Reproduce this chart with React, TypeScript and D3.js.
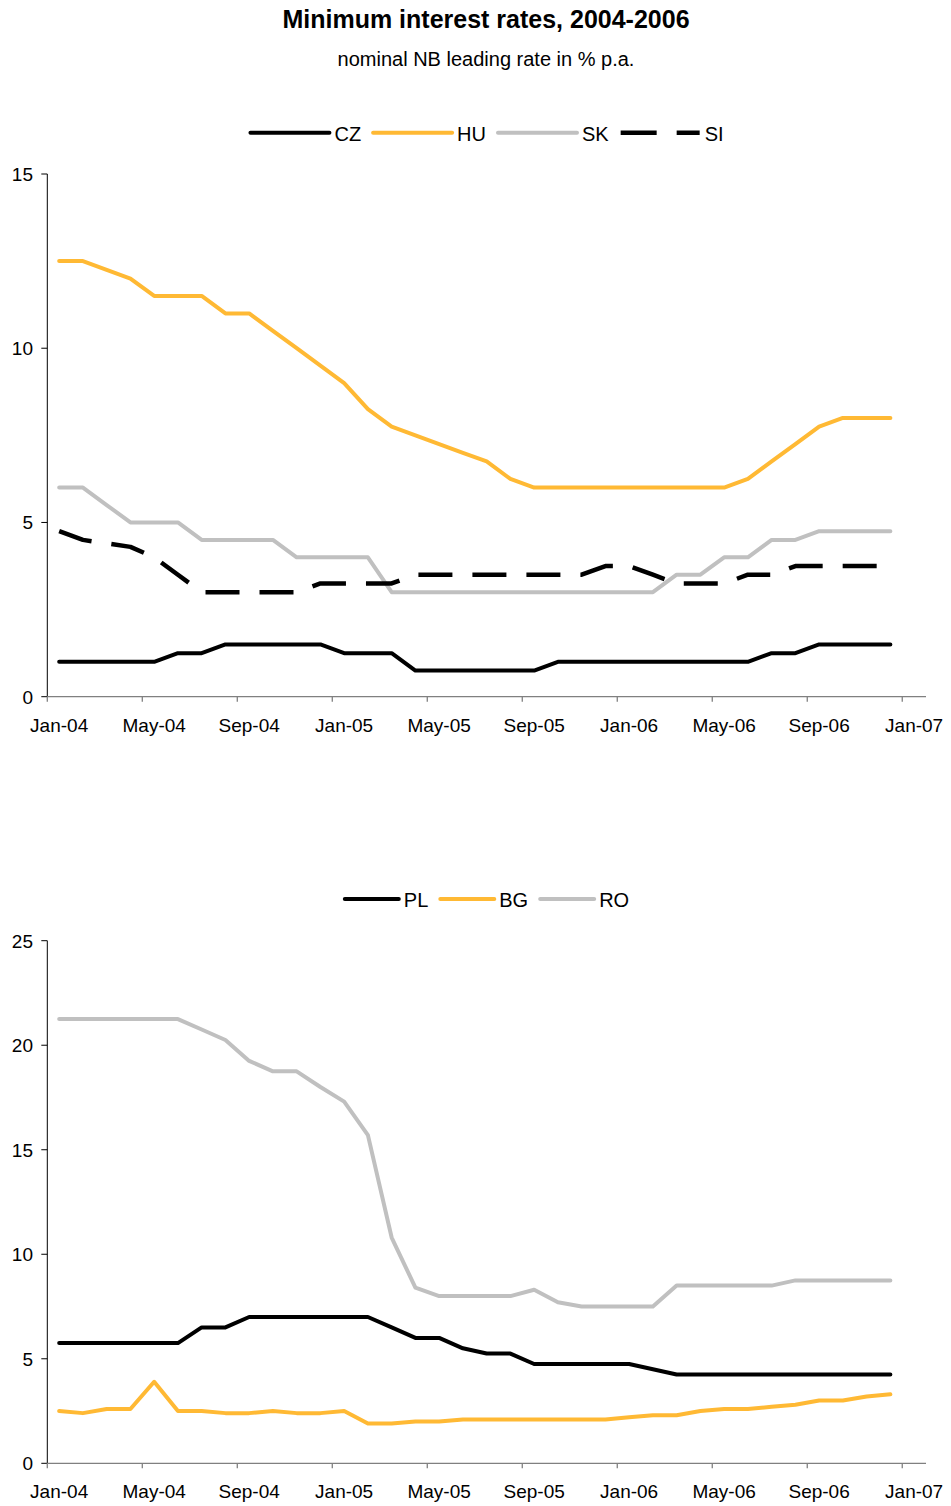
import React from 'react';
import * as d3 from 'd3';

const categories = [
  'Jan-04','Feb-04','Mar-04','Apr-04','May-04','Jun-04','Jul-04','Aug-04','Sep-04','Oct-04','Nov-04','Dec-04',
  'Jan-05','Feb-05','Mar-05','Apr-05','May-05','Jun-05','Jul-05','Aug-05','Sep-05','Oct-05','Nov-05','Dec-05',
  'Jan-06','Feb-06','Mar-06','Apr-06','May-06','Jun-06','Jul-06','Aug-06','Sep-06','Oct-06','Nov-06','Dec-06',
  'Jan-07'
];
const tickLabels = ['Jan-04','May-04','Sep-04','Jan-05','May-05','Sep-05','Jan-06','May-06','Sep-06','Jan-07'];

const CZ = [1,1,1,1,1,1.25,1.25,1.5,1.5,1.5,1.5,1.5,1.25,1.25,1.25,0.75,0.75,0.75,0.75,0.75,0.75,1,1,1,1,1,1,1,1,1,1.25,1.25,1.5,1.5,1.5,1.5];
const HU = [12.5,12.5,12.25,12,11.5,11.5,11.5,11,11,10.5,10,9.5,9,8.25,7.75,7.5,7.25,7,6.75,6.25,6,6,6,6,6,6,6,6,6,6.25,6.75,7.25,7.75,8,8,8];
const SK = [6,6,5.5,5,5,5,4.5,4.5,4.5,4.5,4,4,4,4,3,3,3,3,3,3,3,3,3,3,3,3,3.5,3.5,4,4,4.5,4.5,4.75,4.75,4.75,4.75];
const SI = [4.75,4.5,4.4,4.3,4,3.5,3,3,3,3,3,3.25,3.25,3.25,3.25,3.5,3.5,3.5,3.5,3.5,3.5,3.5,3.5,3.75,3.75,3.5,3.25,3.25,3.25,3.5,3.5,3.75,3.75,3.75,3.75,3.75];

const PL = [5.75,5.75,5.75,5.75,5.75,5.75,6.5,6.5,7,7,7,7,7,7,6.5,6,6,5.5,5.25,5.25,4.75,4.75,4.75,4.75,4.75,4.5,4.25,4.25,4.25,4.25,4.25,4.25,4.25,4.25,4.25,4.25];
const BG = [2.5,2.4,2.6,2.6,3.9,2.5,2.5,2.4,2.4,2.5,2.4,2.4,2.5,1.9,1.9,2.0,2.0,2.1,2.1,2.1,2.1,2.1,2.1,2.1,2.2,2.3,2.3,2.5,2.6,2.6,2.7,2.8,3.0,3.0,3.2,3.3];
const RO = [21.25,21.25,21.25,21.25,21.25,21.25,20.75,20.25,19.25,18.75,18.75,18.0,17.3,15.7,10.8,8.4,8.0,8.0,8.0,8.0,8.3,7.7,7.5,7.5,7.5,7.5,8.5,8.5,8.5,8.5,8.5,8.75,8.75,8.75,8.75,8.75];

const topTicks = [0, 5, 10, 15];
const bottomTicks = [0, 5, 10, 15, 20, 25];

const FONT = '"Liberation Sans", Arial, Helvetica, sans-serif';
const ORANGE = '#FFB934';
const GREY = '#C0C0C0';
const BLACK = '#000000';

type Series = { name: string; values: number[]; color: string; dashed?: boolean };

const topSeries: Series[] = [
  { name: 'CZ', values: CZ, color: BLACK },
  { name: 'HU', values: HU, color: ORANGE },
  { name: 'SK', values: SK, color: GREY },
  { name: 'SI', values: SI, color: BLACK, dashed: true },
];
const bottomSeries: Series[] = [
  { name: 'PL', values: PL, color: BLACK },
  { name: 'BG', values: BG, color: ORANGE },
  { name: 'RO', values: RO, color: GREY },
];

let ctx: CanvasRenderingContext2D | null = null;
function measure(text: string, size: number) {
  if (!ctx) ctx = document.createElement('canvas').getContext('2d');
  if (!ctx) return text.length * size * 0.6;
  ctx.font = `${size}px "Liberation Sans", Arial, sans-serif`;
  return ctx.measureText(text).width;
}

const X0 = 47.3;
const X1 = 926;
const DASH = '34 20';

function Panel(props: {
  series: Series[];
  ticks: number[];
  yTop: number;
  yZero: number;
  legendY: number;
  legendLine: number;
}) {
  const { series, ticks, yTop, yZero, legendY, legendLine } = props;
  const x = d3.scaleLinear().domain([0, categories.length]).range([X0, X1]);
  const y = d3.scaleLinear().domain([0, d3.max(ticks) as number]).range([yZero, yTop]);
  const line = d3
    .line<number>()
    .x((_, i) => x(i + 0.5))
    .y((d) => y(d));

  const tickIdx = tickLabels.map((t) => categories.indexOf(t));

  // legend layout
  const legendFont = 20;
  const items = series.map((s) => ({ s, w: legendLine + 5 + measure(s.name, legendFont) }));
  const gap = 12;
  const total = d3.sum(items, (d) => d.w) + gap * (items.length - 1);
  let lx = 487 - total / 2;
  const legendPos = items.map((it) => {
    const p = lx;
    lx += it.w + gap;
    return p;
  });

  return (
    <g>
      {/* legend */}
      {items.map((it, k) => (
        <g key={it.s.name}>
          <line
            x1={legendPos[k]}
            x2={legendPos[k] + legendLine}
            y1={legendY}
            y2={legendY}
            stroke={it.s.color}
            strokeWidth={it.s.dashed ? 4.5 : 4}
            strokeLinecap={it.s.dashed ? 'butt' : 'round'}
            strokeDasharray={it.s.dashed ? '36 20' : undefined}
          />
          <text
            x={legendPos[k] + legendLine + 5}
            y={legendY + 8}
            fontSize={legendFont}
            fontFamily={FONT}
            fill="#000"
          >
            {it.s.name}
          </text>
        </g>
      ))}

      {/* y axis */}
      <line x1={X0} x2={X0} y1={yTop} y2={yZero} stroke="#000" strokeWidth={1} />
      {ticks.map((t) => (
        <g key={t}>
          <line x1={X0 - 6} x2={X0} y1={y(t)} y2={y(t)} stroke="#000" strokeWidth={1} />
          <text
            x={33}
            y={y(t)}
            dy="0.36em"
            textAnchor="end"
            fontSize={19}
            fontFamily={FONT}
            fill="#000"
          >
            {t}
          </text>
        </g>
      ))}

      {/* x axis */}
      <line x1={X0} x2={X1} y1={yZero} y2={yZero} stroke="#808080" strokeWidth={1.3} />
      {tickIdx.map((i) => (
        <g key={i}>
          <line x1={x(i)} x2={x(i)} y1={yZero} y2={yZero + 5} stroke="#808080" strokeWidth={1.3} />
          <text
            x={x(i + 0.5)}
            y={yZero + 35}
            textAnchor="middle"
            fontSize={19}
            fontFamily={FONT}
            fill="#000"
          >
            {categories[i]}
          </text>
        </g>
      ))}

      {/* lines */}
      {series.map((s) => (
        <path
          key={s.name}
          d={line(s.values) || ''}
          fill="none"
          stroke={s.color}
          strokeWidth={s.dashed ? 4.5 : 4}
          strokeLinejoin="round"
          strokeLinecap={s.dashed ? 'butt' : 'round'}
          strokeDasharray={s.dashed ? DASH : undefined}
        />
      ))}
    </g>
  );
}

export default function App() {
  return (
    <svg
      width={951}
      height={1506}
      viewBox="0 0 951 1506"
      style={{ position: 'absolute', left: 0, top: 0, background: '#fff', display: 'block' }}
    >
      <rect width={951} height={1506} fill="#fff" />
      <text
        x={486}
        y={28}
        textAnchor="middle"
        fontSize={25}
        fontWeight="bold"
        fontFamily={FONT}
        fill="#000"
      >
        Minimum interest rates, 2004-2006
      </text>
      <text x={486} y={66} textAnchor="middle" fontSize={20} fontFamily={FONT} fill="#000">
        nominal NB leading rate in % p.a.
      </text>
      <Panel series={topSeries} ticks={topTicks} yTop={174} yZero={696.7} legendY={132.7} legendLine={79} />
      <Panel series={bottomSeries} ticks={bottomTicks} yTop={940.7} yZero={1463.3} legendY={899} legendLine={54} />
    </svg>
  );
}
